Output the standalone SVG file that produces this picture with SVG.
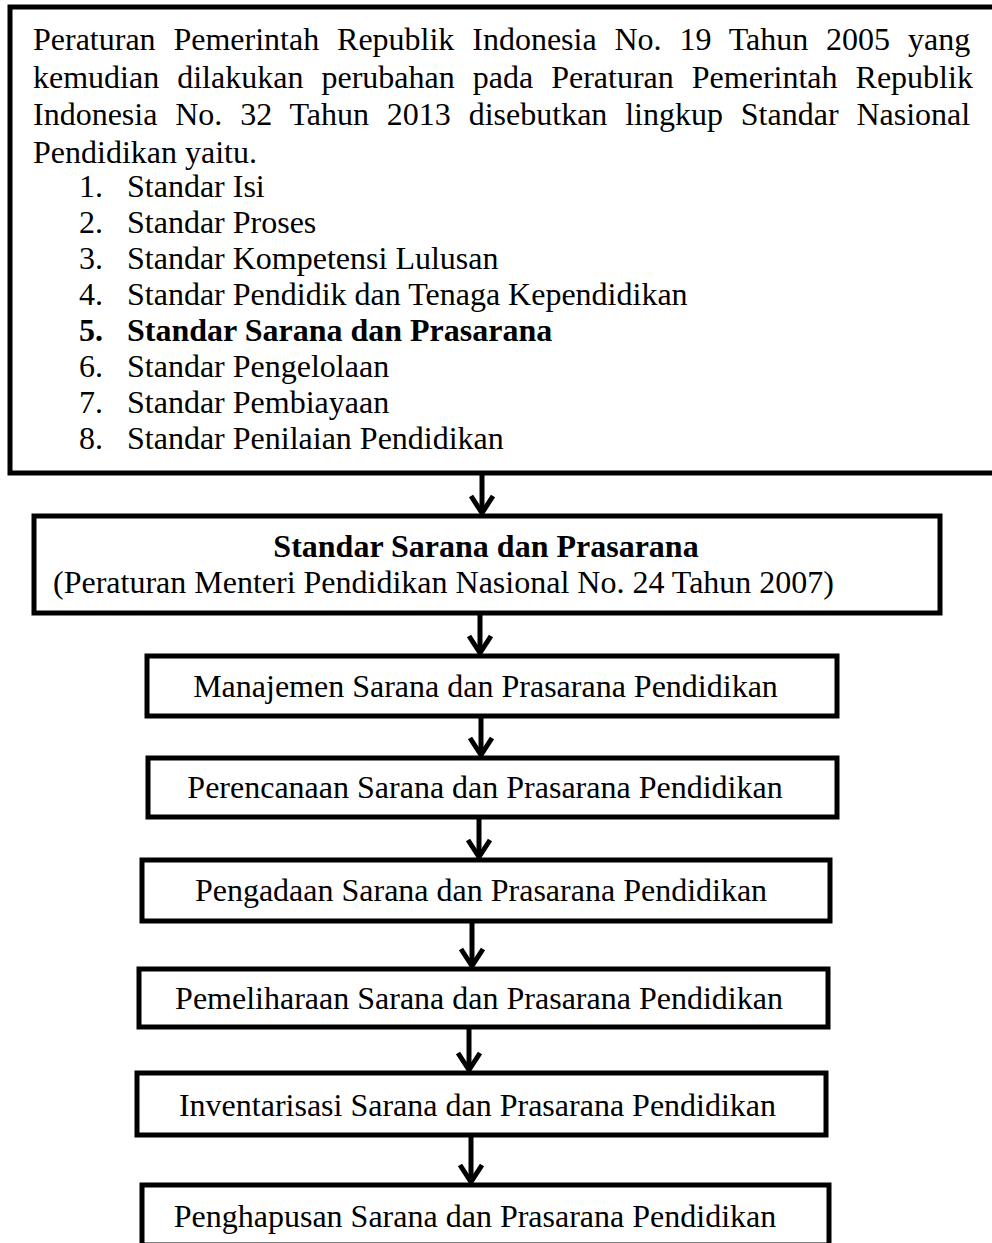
<svg xmlns="http://www.w3.org/2000/svg" width="992" height="1243" viewBox="0 0 992 1243">
<style>
text{font-family:"Liberation Serif","Times New Roman",serif;font-size:32px;fill:#000}
.b{font-weight:bold}
.box{fill:#fff;stroke:#000;stroke-width:5}
.con{stroke:#000;stroke-width:5;fill:none}
</style>
<defs>
<marker id="arr" markerUnits="userSpaceOnUse" markerWidth="30" markerHeight="30" viewBox="-22 -15 26 30" refX="0" refY="0" orient="auto">
<path d="M-17,-11 L0,0 L-17,11" fill="none" stroke="#000" stroke-width="5" stroke-linejoin="miter"/>
</marker>
</defs>
<rect width="992" height="1243" fill="#fff"/>
<g id="n1">
<rect class="box" x="10" y="7" width="1000" height="466"/>
<text x="33" y="50" word-spacing="9.85">Peraturan Pemerintah Republik Indonesia No. 19 Tahun 2005 yang</text>
<text x="33" y="87.5" word-spacing="10.03">kemudian dilakukan perubahan pada Peraturan Pemerintah Republik</text>
<text x="33" y="125" word-spacing="9.85">Indonesia No. 32 Tahun 2013 disebutkan lingkup Standar Nasional</text>
<text x="33" y="162.5">Pendidikan yaitu.</text>
<text x="79" y="197">1.</text><text x="127" y="197">Standar Isi</text>
<text x="79" y="233">2.</text><text x="127" y="233">Standar Proses</text>
<text x="79" y="269">3.</text><text x="127" y="269">Standar Kompetensi Lulusan</text>
<text x="79" y="305">4.</text><text x="127" y="305">Standar Pendidik dan Tenaga Kependidikan</text>
<text class="b" x="79" y="341">5.</text><text class="b" x="127" y="341">Standar Sarana dan Prasarana</text>
<text x="79" y="377">6.</text><text x="127" y="377">Standar Pengelolaan</text>
<text x="79" y="413">7.</text><text x="127" y="413">Standar Pembiayaan</text>
<text x="79" y="449">8.</text><text x="127" y="449">Standar Penilaian Pendidikan</text>
</g>
<g id="n2">
<rect class="box" x="34" y="516" width="906" height="97"/>
<text class="b" x="486" y="557" text-anchor="middle">Standar Sarana dan Prasarana</text>
<text x="53" y="593">(Peraturan Menteri Pendidikan Nasional No. 24 Tahun 2007)</text>
</g>
<g id="n3">
<rect class="box" x="147" y="656" width="690" height="60"/>
<text x="485.5" y="697" text-anchor="middle">Manajemen Sarana dan Prasarana Pendidikan</text>
</g>
<g id="n4">
<rect class="box" x="148" y="758" width="689" height="59"/>
<text x="485" y="798" text-anchor="middle">Perencanaan Sarana dan Prasarana Pendidikan</text>
</g>
<g id="n5">
<rect class="box" x="142" y="860" width="688" height="61"/>
<text x="481" y="901" text-anchor="middle">Pengadaan Sarana dan Prasarana Pendidikan</text>
</g>
<g id="n6">
<rect class="box" x="139" y="969" width="689" height="58"/>
<text x="479" y="1009" text-anchor="middle">Pemeliharaan Sarana dan Prasarana Pendidikan</text>
</g>
<g id="n7">
<rect class="box" x="137" y="1073" width="689" height="62"/>
<text x="477.5" y="1116" text-anchor="middle">Inventarisasi Sarana dan Prasarana Pendidikan</text>
</g>
<g id="n8">
<rect class="box" x="142" y="1185" width="687" height="60"/>
<text x="475" y="1227" text-anchor="middle">Penghapusan Sarana dan Prasarana Pendidikan</text>
</g>
<g id="connectors">
<line class="con" x1="482" y1="475" x2="482" y2="513" marker-end="url(#arr)"/>
<line class="con" x1="480" y1="615" x2="480" y2="653" marker-end="url(#arr)"/>
<line class="con" x1="481" y1="718" x2="481" y2="755" marker-end="url(#arr)"/>
<line class="con" x1="479" y1="819" x2="479" y2="857" marker-end="url(#arr)"/>
<line class="con" x1="472" y1="923" x2="472" y2="966" marker-end="url(#arr)"/>
<line class="con" x1="469" y1="1029" x2="469" y2="1070" marker-end="url(#arr)"/>
<line class="con" x1="471" y1="1137" x2="471" y2="1182" marker-end="url(#arr)"/>
</g>
</svg>
